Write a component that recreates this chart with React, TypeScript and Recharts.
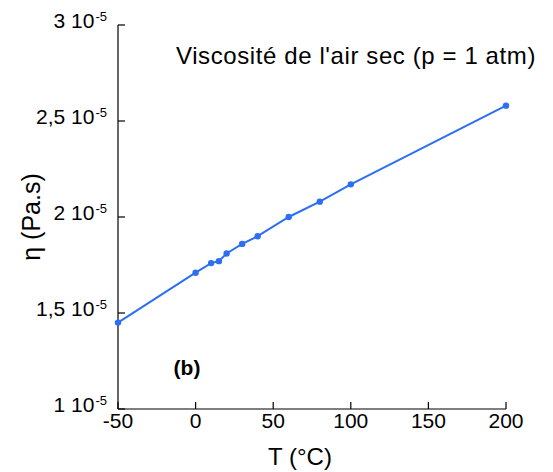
import { CartesianGrid, Customized, Line, LineChart, XAxis, YAxis } from "recharts"

// Viscosité dynamique de l'air sec, p = 1 atm
const TEMPERATURES = [-50, 0, 10, 15, 20, 30, 40, 60, 80, 100, 200]
const VISCOSITY = [1.45e-5, 1.71e-5, 1.76e-5, 1.77e-5, 1.81e-5, 1.86e-5, 1.9e-5, 2.0e-5, 2.08e-5, 2.17e-5, 2.58e-5]

const X_TICKS = [-50, 0, 50, 100, 150, 200]
const Y_TICKS = [1e-5, 1.5e-5, 2e-5, 2.5e-5, 3e-5]
const Y_TICK_LABELS = ["1 10", "1,5 10", "2 10", "2,5 10", "3 10"]

const TITLE = "Viscosité de l'air sec (p = 1 atm)"
const PANEL = "(b)"
const X_LABEL = "T (°C)"
const Y_LABEL = "η (Pa.s)"

const BLUE = "#2d6ff2"
const FONT = "'Liberation Sans', Arial, Helvetica, sans-serif"

const data = TEMPERATURES.map((t, i) => ({ t, eta: VISCOSITY[i] }))

const XTick = (props: any) => {
  const { x, y, payload } = props
  return (
    <g>
      <line x1={x} x2={x} y1={y} y2={y - 7} stroke="#000" strokeWidth={1.2} />
      <text x={x} y={y + 19} textAnchor="middle" fontSize={21} fontFamily={FONT} fill="#000">
        {String(payload.value)}
      </text>
    </g>
  )
}

const YTick = (props: any) => {
  const { x, y, payload, index } = props
  const idx = Y_TICKS.findIndex((v) => Math.abs(v - payload.value) < 1e-9)
  const label = Y_TICK_LABELS[idx >= 0 ? idx : index]
  return (
    <g>
      <line x1={x} x2={x + 7} y1={y} y2={y} stroke="#000" strokeWidth={1.2} />
      <text x={x - 11} y={y + 3} textAnchor="end" fontFamily={FONT} fill="#000">
        <tspan fontSize={21}>{label}</tspan>
        <tspan fontSize={13} dy={-7} dx={1}>-5</tspan>
      </text>
    </g>
  )
}

const Annotations = () => (
  <g fontFamily={FONT} fill="#000">
    <text x={176} y={64} fontSize={24} letterSpacing={0.6}>{TITLE}</text>
    <text x={187} y={375} fontSize={21} textAnchor="middle" fontWeight={600}>{PANEL}</text>
    <text x={300} y={465} fontSize={24} textAnchor="middle">{X_LABEL}</text>
    <text x={31} y={217} fontSize={25} textAnchor="middle" dominantBaseline="central" transform="rotate(-90 31 217)">
      {Y_LABEL}
    </text>
  </g>
)

export default function App() {
  return (
    <div style={{ position: "absolute", left: 0, top: 0, width: 553, height: 472, background: "#fff" }}>
      <LineChart width={553} height={472} data={data} margin={{ top: 25, right: 47, bottom: 0, left: 0 }}>
        <CartesianGrid horizontal={false} vertical={false} />
        <XAxis
          dataKey="t"
          type="number"
          domain={[-50, 200]}
          ticks={X_TICKS}
          height={63}
          tickSize={0}
          tickMargin={0}
          tickLine={false}
          axisLine={{ stroke: "#000", strokeWidth: 1.2 }}
          tick={<XTick />}
          interval={0}
        />
        <YAxis
          dataKey="eta"
          type="number"
          domain={[1e-5, 3e-5]}
          ticks={Y_TICKS}
          width={118}
          tickSize={0}
          tickMargin={0}
          tickLine={false}
          axisLine={{ stroke: "#000", strokeWidth: 1.2 }}
          tick={<YTick />}
          interval={0}
        />
        <Line
          dataKey="eta"
          stroke={BLUE}
          strokeWidth={2}
          dot={{ r: 3.2, fill: BLUE, stroke: BLUE, strokeWidth: 0 }}
          isAnimationActive={false}
        />
        <Customized component={Annotations} />
      </LineChart>
    </div>
  )
}
